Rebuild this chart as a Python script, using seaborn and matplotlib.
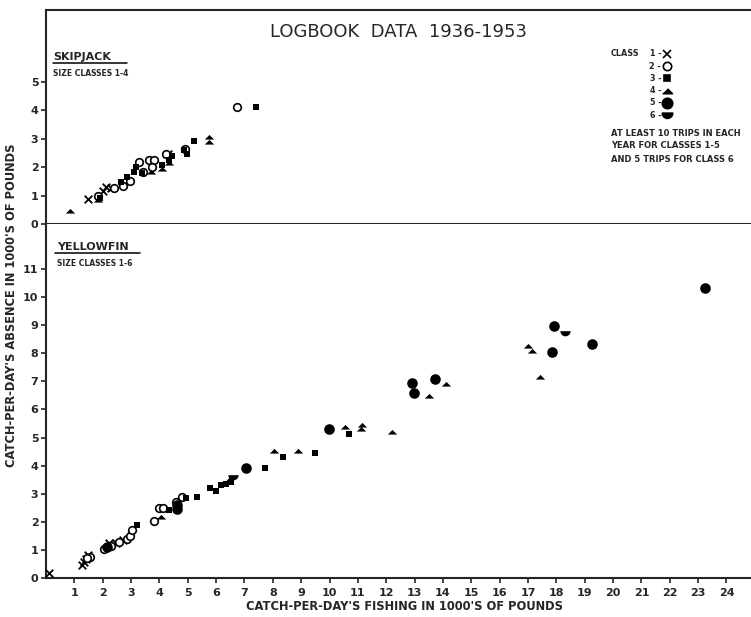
import numpy as np
import pandas as pd
import seaborn as sns
import matplotlib.pyplot as plt
from matplotlib.path import Path
from matplotlib.markers import MarkerStyle
from matplotlib.lines import Line2D

# skipjack, size classes 1-4 (x = fishing, y = absence, 1000's of lbs)
skj_x1 = [1.48, 2.0, 2.1, 2.3, 4.3]
skj_y1 = [0.88, 1.15, 1.3, 1.25, 2.45]
skj_x2 = [1.85, 2.4, 2.7, 2.95, 3.29, 3.43, 3.64, 3.82, 3.75, 4.24, 4.9, 6.75]
skj_y2 = [1.0, 1.25, 1.35, 1.5, 2.18, 1.83, 2.25, 2.25, 2.0, 2.46, 2.65, 4.12]
skj_x3 = [1.9, 2.65, 2.85, 3.1, 3.17, 3.4, 4.1, 4.35, 4.45, 4.88, 4.98, 5.23, 7.42]
skj_y3 = [0.9, 1.48, 1.66, 1.83, 2.0, 1.8, 2.08, 2.25, 2.4, 2.6, 2.45, 2.92, 4.12]
skj_x4 = [0.85, 1.84, 3.71, 4.1, 4.35, 5.76, 5.76]
skj_y4 = [0.45, 0.85, 1.83, 1.95, 2.15, 3.07, 2.9]

# yellowfin, size classes 1-6
yf_x1 = [0.1, 1.27, 1.34, 1.41, 1.48, 2.23, 2.47, 2.7]
yf_y1 = [0.18, 0.45, 0.57, 0.68, 0.82, 1.25, 1.25, 1.35]
yf_x2 = [1.55, 1.45, 2.05, 2.3, 2.58, 2.86, 2.95, 3.04, 3.82, 4.0, 4.13, 4.6, 4.8]
yf_y2 = [0.75, 0.7, 1.03, 1.15, 1.28, 1.38, 1.5, 1.7, 2.03, 2.49, 2.49, 2.7, 2.88]
yf_x3 = [3.2, 4.35, 4.95, 5.33, 5.8, 6.0, 6.18, 6.35, 6.53, 7.73, 8.35, 9.47, 10.7]
yf_y3 = [1.88, 2.42, 2.85, 2.88, 3.2, 3.1, 3.3, 3.35, 3.42, 3.92, 4.3, 4.45, 5.12]
yf_x4 = [4.06, 6.45, 8.05, 8.9, 10.53, 11.1, 11.13, 12.2, 13.5, 14.1, 17.0, 17.14, 17.42]
yf_y4 = [2.17, 3.5, 4.52, 4.52, 5.37, 5.3, 5.44, 5.2, 6.48, 6.9, 8.26, 8.08, 7.15]
yf_x5 = [2.16, 4.63, 4.63, 7.07, 9.97, 12.9, 12.97, 13.71, 17.84, 17.92, 19.26, 23.25]
yf_y5 = [1.1, 2.45, 2.6, 3.92, 5.3, 6.94, 6.58, 7.08, 8.04, 8.97, 8.33, 10.32]
yf_x6 = [6.58, 18.3]
yf_y6 = [3.6, 8.72]

classes = [1, 2, 3, 4, 5, 6]
x_ticks = list(range(1, 25))
skj_yticks = [0, 1, 2, 3, 4, 5]
yf_yticks = list(range(0, 12))
notes = ["AT LEAST 10 TRIPS IN EACH", "YEAR FOR CLASSES 1-5", "AND 5 TRIPS FOR CLASS 6"]


def frame(xs, ys):
    rows = []
    for c, (xv, yv) in enumerate(zip(xs, ys), start=1):
        rows.append(pd.DataFrame({"fishing": xv, "absence": yv, "cls": c}))
    return pd.concat(rows, ignore_index=True)


skj = frame([skj_x1, skj_x2, skj_x3, skj_x4], [skj_y1, skj_y2, skj_y3, skj_y4])
yf = frame([yf_x1, yf_x2, yf_x3, yf_x4, yf_x5, yf_x6],
           [yf_y1, yf_y2, yf_y3, yf_y4, yf_y5, yf_y6])

# marker shapes: flat triangle and lower half disc
tri = MarkerStyle([(-1, -0.45), (1, -0.45), (0, 0.55)])
w = Path.wedge(180, 360)
half = MarkerStyle(Path(w.vertices + [0, 0.45], w.codes))

style = {
    1: dict(marker="x", s=30, linewidth=1.3),
    2: dict(marker="o", s=30, facecolor="white", edgecolor="black", linewidth=1.2),
    3: dict(marker="s", s=24, edgecolor="black", linewidth=0),
    4: dict(marker=tri, s=45, edgecolor="black", linewidth=0),
    5: dict(marker="o", s=58, edgecolor="black", linewidth=0),
    6: dict(marker=half, s=55, edgecolor="black", linewidth=0),
}

sns.set_style("ticks")
plt.rcParams["font.family"] = ["DejaVu Sans"]

W, H = 751, 617
fig = plt.figure(figsize=(W / 100, H / 100), dpi=100)
ax_top = fig.add_axes([0.0613, 0.637, 0.94, 0.347])
ax_bot = fig.add_axes([0.0613, 0.0632, 0.94, 0.5738])

for ax, df in [(ax_top, skj), (ax_bot, yf)]:
    for c, sub in df.groupby("cls"):
        sns.scatterplot(data=sub, x="fishing", y="absence", color="black",
                        ax=ax, zorder=3, clip_on=False, legend=False, **style[c])
    ax.set_xlim(0, 24.9)
    ax.set_xlabel("")
    ax.set_ylabel("")
    ax.spines["right"].set_visible(False)
    for s in ax.spines.values():
        s.set_linewidth(1.5)
    ax.tick_params(direction="out", length=3.5, width=1.2, labelsize=8, pad=2)

ax_top.set_ylim(0, 7.54)
ax_top.set_yticks(skj_yticks)
ax_top.tick_params(axis="x", bottom=False, labelbottom=False)

ax_bot.set_ylim(0, 12.6)
ax_bot.set_yticks(yf_yticks)
ax_bot.set_xticks(x_ticks)
ax_bot.tick_params(axis="x", pad=3.5)
ax_bot.spines["top"].set_visible(False)
for lab in ax_bot.get_xticklabels() + ax_bot.get_yticklabels() + ax_top.get_yticklabels():
    lab.set_fontweight("bold")


def fx(px):
    return px / W


def fy(py):
    return 1 - py / H


def uline(x0, x1, y):
    fig.add_artist(Line2D([fx(x0), fx(x1)], [fy(y), fy(y)], color="black",
                          lw=1.1, transform=fig.transFigure))


fig.text(fx(398), fy(32), "LOGBOOK  DATA  1936-1953", ha="center", va="center",
         fontsize=13)

fig.text(fx(53), fy(57), "SKIPJACK", fontsize=8, fontweight="bold", va="center")
uline(53, 127, 63)
fig.text(fx(53), fy(73), "SIZE CLASSES 1-4", fontsize=5.5, fontweight="bold", va="center")
fig.text(fx(57), fy(247), "YELLOWFIN", fontsize=8, fontweight="bold", va="center")
uline(55, 140, 253)
fig.text(fx(57), fy(264), "SIZE CLASSES 1-6", fontsize=5.5, fontweight="bold", va="center")

# class key
fig.text(fx(611), fy(54), "CLASS", fontsize=5.8, fontweight="bold", va="center")
key_size = {1: 6, 2: 6, 3: 5, 4: 7, 5: 7.5, 6: 7.5}
for i, c in enumerate(classes):
    yy = 54 + i * 12.2
    fig.text(fx(661), fy(yy), f"{c} -", fontsize=5.8, fontweight="bold",
             ha="right", va="center")
    st = style[c]
    fig.add_artist(Line2D([fx(667)], [fy(yy)], marker=st["marker"], linestyle="none",
                          markersize=key_size[c], color="black",
                          mfc=st.get("facecolor", "black"), mew=1.2,
                          transform=fig.transFigure))
for i, t in enumerate(notes):
    fig.text(fx(611), fy(133 + i * 13), t, fontsize=6, fontweight="bold", va="center")

fig.text(fx(12), fy(305), "CATCH-PER-DAY'S ABSENCE IN 1000'S OF POUNDS", rotation=90,
         ha="center", va="center", fontsize=8.3, fontweight="bold")
fig.text(fx(405), fy(606), "CATCH-PER-DAY'S FISHING IN 1000'S OF POUNDS",
         ha="center", va="center", fontsize=8.3, fontweight="bold")

fig.savefig("out.png", dpi=100)
